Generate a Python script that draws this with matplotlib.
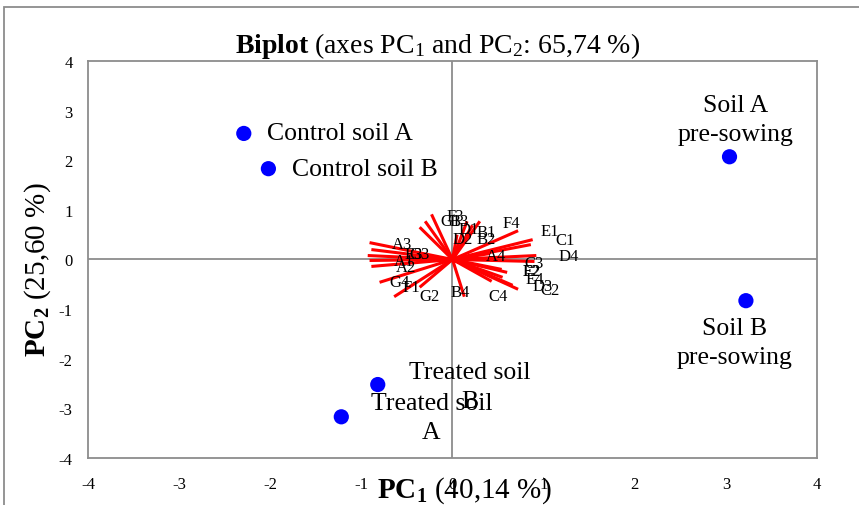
import matplotlib
matplotlib.use("Agg")
import matplotlib.pyplot as plt
from matplotlib.patches import Rectangle

plt.rcParams["font.family"] = "Liberation Serif"
plt.rcParams["mathtext.fontset"] = "custom"
plt.rcParams["mathtext.rm"] = "Liberation Serif"
plt.rcParams["mathtext.it"] = "Liberation Serif:italic"
plt.rcParams["mathtext.bf"] = "Liberation Serif:bold"

# observations (scores on PC1 / PC2)
obs_names = ["Control soil A", "Control soil B", "Soil A\npre-sowing",
             "Soil B\npre-sowing", "Treated soil\nB", "Treated soil\nA"]
obs_x = [-2.29, -2.02, 3.04, 3.22, -0.82, -1.22]
obs_y = [2.54, 1.83, 2.07, -0.83, -2.52, -3.17]

# variables (loadings, end of each red vector)
var_names = ["F4", "E1", "C1", "D4", "A4", "C3", "F2", "E2", "E4", "D3", "C2",
             "C4", "B4", "B1", "B2", "D1", "D2", "F3", "G1", "B3",
             "A3", "E3", "G3", "A1", "A2", "G4", "F1", "G2"]
var_x = [0.72, 0.88, 0.86, 0.92, 0.41, 0.90, 0.54, 0.60, 0.55, 0.72, 0.66,
         0.43, 0.13, 0.30, 0.22, 0.16, 0.05, -0.23, -0.30, -0.36,
         -0.91, -0.89, -0.93, -0.91, -0.89, -0.80, -0.64, -0.36]
var_y = [0.58, 0.40, 0.30, 0.08, 0.12, -0.04, -0.20, -0.26, -0.36, -0.60, -0.52,
         -0.44, -0.75, 0.77, 0.69, 0.77, 0.50, 0.91, 0.77, 0.65,
         0.34, 0.20, 0.08, -0.02, -0.14, -0.46, -0.75, -0.56]
# label anchor points for the variables
lab_x = [0.65, 1.07, 1.24, 1.28, 0.48, 0.90, 0.87, 0.87, 0.90, 0.99, 1.07,
         0.50, 0.09, 0.37, 0.37, 0.18, 0.11, 0.03, -0.02, 0.07,
         -0.55, -0.43, -0.36, -0.53, -0.51, -0.58, -0.45, -0.25]
lab_y = [0.73, 0.57, 0.40, 0.08, 0.08, -0.08, -0.24, -0.24, -0.40, -0.54, -0.62,
         -0.74, -0.65, 0.55, 0.41, 0.61, 0.41, 0.87, 0.77, 0.77,
         0.32, 0.12, 0.12, -0.04, -0.16, -0.46, -0.56, -0.74]

fig = plt.figure(figsize=(8.59, 5.06), dpi=100)
ax = fig.add_axes([0.1024, 0.0929, 0.8487, 0.7846])

grey = "#8c8c8c"
for s in ax.spines.values():
    s.set_color(grey)
    s.set_linewidth(1.3)
ax.axhline(0, color=grey, lw=1.3, zorder=1)
ax.axvline(0, color=grey, lw=1.3, zorder=1)

for vx, vy in zip(var_x, var_y):
    ax.plot([0, vx], [0, vy], color="#ff0000", lw=2.2, zorder=2, solid_capstyle="butt")
for name, lx, ly in zip(var_names, lab_x, lab_y):
    ax.text(lx, ly, name, fontsize=12, ha="center", va="center", zorder=3)

ax.scatter(obs_x, obs_y, s=120, color="#0000ff", zorder=4, edgecolors="none")

# observation labels
fs = 18.5
ls = 1.42
ax.text(obs_x[0] + 0.26, obs_y[0], obs_names[0], fontsize=fs, va="center")
ax.text(obs_x[1] + 0.26, obs_y[1], obs_names[1], fontsize=fs, va="center")
ax.text(3.11, 2.82, obs_names[2], fontsize=fs, ha="center", va="center", linespacing=ls)
ax.text(3.09, -1.67, obs_names[3], fontsize=fs, ha="center", va="center", linespacing=ls)
ax.text(0.19, -2.56, obs_names[4], fontsize=fs, ha="center", va="center", linespacing=ls)
ax.text(-0.23, -3.19, obs_names[5], fontsize=fs, ha="center", va="center", linespacing=ls)

ax.set_xlim(-4, 4)
ax.set_ylim(-4, 4)
ax.set_xticks(range(-4, 5))
ax.set_yticks(range(-4, 5))
ax.tick_params(length=0, labelsize=12)
ax.tick_params(axis="x", pad=13)
ax.tick_params(axis="y", pad=11)
ax.set_xticklabels([str(v) for v in range(-4, 5)])
ax.set_yticklabels([str(v) for v in range(-4, 5)])

fig.text(0.509, 0.909, r"$\bf{Biplot}$ (axes PC$_1$ and PC$_2$: 65,74 %)",
         fontsize=20, ha="center", va="center")
fig.text(0.540, 0.030, r"$\bf{PC_1}$ (40,14 %)", fontsize=21, ha="center", va="center")
fig.text(0.044, 0.466, r"$\bf{PC_2}$ (25,60 %)", fontsize=21, ha="center", va="center",
         rotation=90)

# outer chart frame
fig.patches.append(Rectangle((0.0047, -0.1), 1.2, 1.0842, transform=fig.transFigure,
                             fill=False, edgecolor=grey, lw=1.3))

fig.savefig("out.png", dpi=100)
